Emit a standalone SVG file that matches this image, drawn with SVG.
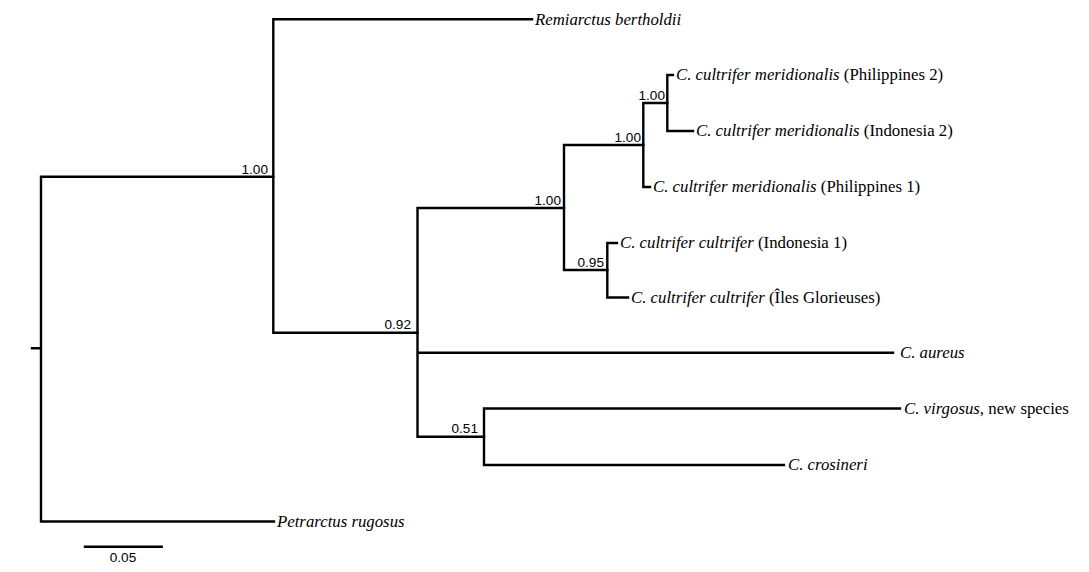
<svg xmlns="http://www.w3.org/2000/svg" width="1089" height="572" viewBox="0 0 1089 572">
<style>
.br{fill:none;stroke:#000;stroke-width:2.4;stroke-linecap:square;stroke-linejoin:miter}
.tx{font-family:"Liberation Serif","Times New Roman",serif;font-size:16.8px;fill:#000}
.it{font-style:italic}
.sp{font-family:"Liberation Sans",Arial,sans-serif;font-size:13.6px;fill:#000;text-anchor:end}
.sc{font-family:"Liberation Sans",Arial,sans-serif;font-size:13.6px;fill:#000;text-anchor:middle}
</style>
<rect width="1089" height="572" fill="#fff"/>
<g id="connectors">
<path class="br" d="M32,348.3H41M41,176.7V521.5M41,176.7H273.3M41,521.5H274"/>
<path class="br" d="M273.3,19.3V332.7M273.3,19.3H532M273.3,332.7H417.5"/>
<path class="br" d="M417.5,208V436.7M417.5,208H564M417.5,352.7H893M417.5,436.7H484"/>
<path class="br" d="M564,145V270M564,145H643.3M564,270H607.3"/>
<path class="br" d="M643.3,103V187M643.3,103H667.3M643.3,187H650"/>
<path class="br" d="M667.3,75V131M667.3,75H673M667.3,131H693"/>
<path class="br" d="M607.3,243V297.5M607.3,243H617M607.3,297.5H628"/>
<path class="br" d="M484,408.5V465M484,408.5H900M484,465H784"/>
</g>
<g id="node-A"><text class="sp" x="268" y="174">1.00</text></g>
<g id="node-B"><text class="sp" x="411" y="329">0.92</text></g>
<g id="node-C"><text class="sp" x="561" y="205">1.00</text></g>
<g id="node-D"><text class="sp" x="641" y="142">1.00</text></g>
<g id="node-E"><text class="sp" x="665" y="100">1.00</text></g>
<g id="node-F"><text class="sp" x="604" y="267">0.95</text></g>
<g id="node-G"><text class="sp" x="478" y="433">0.51</text></g>
<g id="tip-remiarctus"><text class="tx it" x="535" y="24.5">Remiarctus bertholdii</text></g>
<g id="tip-phil2"><text class="tx" x="676" y="80"><tspan class="it">C. cultrifer meridionalis</tspan> (Philippines 2)</text></g>
<g id="tip-indo2"><text class="tx" x="696" y="136"><tspan class="it">C. cultrifer meridionalis</tspan> (Indonesia 2)</text></g>
<g id="tip-phil1"><text class="tx" x="653" y="192"><tspan class="it">C. cultrifer meridionalis</tspan> (Philippines 1)</text></g>
<g id="tip-indo1"><text class="tx" x="620" y="248"><tspan class="it">C. cultrifer cultrifer</tspan> (Indonesia 1)</text></g>
<g id="tip-glorieuses"><text class="tx" x="631" y="302.5"><tspan class="it">C. cultrifer cultrifer</tspan> (Îles Glorieuses)</text></g>
<g id="tip-aureus"><text class="tx it" x="900" y="358">C. aureus</text></g>
<g id="tip-virgosus"><text class="tx" x="904" y="413.5"><tspan class="it">C. virgosus</tspan>, new species</text></g>
<g id="tip-crosineri"><text class="tx it" x="788" y="470">C. crosineri</text></g>
<g id="tip-petrarctus"><text class="tx it" x="277" y="526.5">Petrarctus rugosus</text></g>
<g id="scale-bar">
<path class="br" d="M85,546.7H161.7"/>
<text class="sc" x="123" y="561.5">0.05</text>
</g>
</svg>
